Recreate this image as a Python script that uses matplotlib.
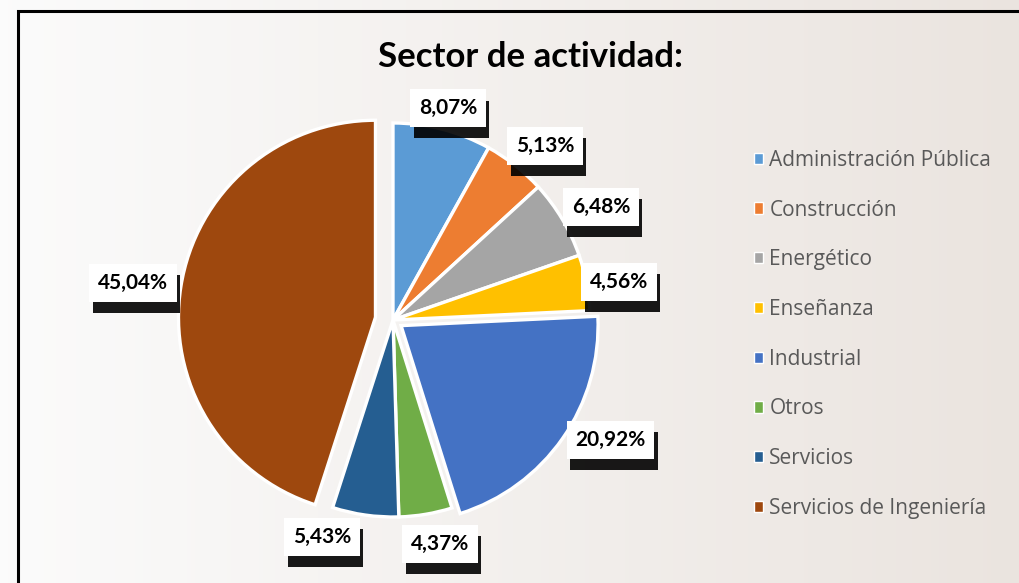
import numpy as np
import matplotlib.pyplot as plt
from matplotlib.patches import Patch, Rectangle
import matplotlib.patheffects as pe

# data
sectors = ["Administración Pública", "Construcción", "Energético", "Enseñanza",
           "Industrial", "Otros", "Servicios", "Servicios de Ingeniería"]
shares = [8.07, 5.13, 6.48, 4.56, 20.92, 4.37, 5.43, 45.04]
pct_labels = ["8,07%", "5,13%", "6,48%", "4,56%", "20,92%", "4,37%", "5,43%", "45,04%"]
colors = ["#5B9BD5", "#ED7D31", "#A5A5A5", "#FFC000",
          "#4472C4", "#70AD47", "#255E91", "#9E480E"]
explode = [0, 0, 0, 0, 0.05, 0, 0, 0.09]

# label box positions (data coords, radius = 1)
label_pos = [(0.279, 1.075), (0.772, 0.883), (1.056, 0.574), (1.147, 0.193),
             (1.104, -0.609), (0.239, -1.137), (-0.360, -1.102), (-1.320, 0.188)]

W, H = 1019, 583
fig = plt.figure(figsize=(W / 100, H / 100), dpi=100)

# background: soft gradient standing in for the photo texture
bg = fig.add_axes([0, 0, 1, 1])
grad = np.linspace(0, 1, 256)[None, :]
c0 = np.array([0.985, 0.985, 0.985])
c1 = np.array([0.92, 0.895, 0.875])
img = c0[None, None, :] * (1 - grad[..., None]) + c1[None, None, :] * grad[..., None]
img = np.repeat(img, 2, axis=0)
bg.imshow(img, aspect="auto", extent=[0, 1, 0, 1])
bg.set_xlim(0, 1)
bg.set_ylim(0, 1)
bg.axis("off")

# black frame, open at right/bottom
fig.patches.append(Rectangle((18 / W, -0.1), 1.2, 1 - 11 / H + 0.1,
                             transform=fig.transFigure, fill=False,
                             edgecolor="black", linewidth=2.2, zorder=5))

# pie axes: centre at (393, 320) px, radius 197 px, limits +-1.3
cx, cy, r = 393, 320, 197
half = 1.3 * r
ax = fig.add_axes([(cx - half) / W, (H - cy - half) / H, 2 * half / W, 2 * half / H])
wedges, _ = ax.pie(shares, colors=colors, explode=explode, startangle=90,
                   counterclock=False, radius=1,
                   wedgeprops=dict(edgecolor="white", linewidth=2.4))
ax.set_xlim(-1.3, 1.3)
ax.set_ylim(-1.3, 1.3)
ax.set_aspect("equal")
ax.axis("off")

shadow = [pe.SimplePatchShadow(offset=(2.5, -8), shadow_rgbFace="black", alpha=0.9),
          pe.Normal()]
for txt, (x, y) in zip(pct_labels, label_pos):
    t = ax.text(x, y, txt, ha="center", va="center", fontsize=15, fontweight="bold",
                family="Lato", color="black",
                bbox=dict(boxstyle="square,pad=0.42", fc="white", ec="none"))
    t.get_bbox_patch().set_path_effects(shadow)

fig.text(531 / W, 1 - 57 / H, "Sector de actividad:", ha="center", va="center",
         fontsize=25, fontweight="bold", family="Lato", color="black")

handles = [Patch(facecolor=c, edgecolor="white", linewidth=1) for c in colors]
fig.legend(handles, sectors, loc="upper left", bbox_to_anchor=(735 / W, 1 - 131 / H),
           frameon=False, handlelength=0.45, handleheight=0.45,
           handletextpad=0.3, labelspacing=1.38, labelcolor="#595959",
           prop=dict(family="Open Sans", size=15))

fig.savefig("out.png", dpi=100)
